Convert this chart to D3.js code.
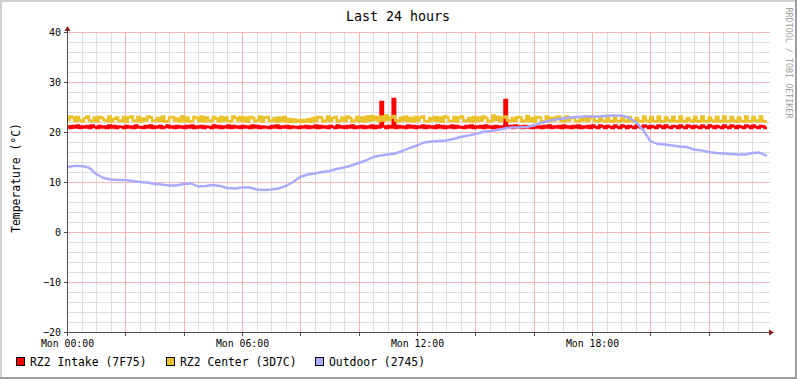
<!DOCTYPE html>
<html><head><meta charset="utf-8">
<script src="https://cdn.jsdelivr.net/npm/d3@7"></script>
<style>
html,body{margin:0;padding:0;background:#fff;}
svg text{font-family:"DejaVu Sans Mono",monospace;}
</style></head>
<body><svg id="c" width="797" height="379"></svg>
<script>
// ---------------- data ----------------
const title = "Last 24 hours";
const yLabel = "Temperature (°C)";
const credit = "RRDTOOL / TOBI OETIKER";
const seriesNames = ["RZ2 Intake (7F75)", "RZ2 Center (3D7C)", "Outdoor (2745)"];
const seriesColors = ["#FF0000", "#EBC22A", "#AAAAFF"];
const yTicks = [-20, -10, 0, 10, 20, 30, 40];
const xTickHours = [0, 6, 12, 18];
const xTickLabels = ["Mon 00:00", "Mon 06:00", "Mon 12:00", "Mon 18:00"];

// RZ2 Intake, 5-minute samples (288)
const intake = [
21.1,20.8,21.2,20.9,21.3,20.8,21.1,20.9,21.2,20.8,21.3,21.0,20.8,21.2,20.9,21.1,20.8,21.3,20.9,21.2,20.8,21.1,21.0,20.8,
21.2,20.9,21.1,20.8,21.3,20.9,21.0,20.8,21.2,20.9,21.3,20.8,21.1,20.9,21.2,20.8,21.0,21.3,20.9,21.1,20.8,21.2,20.9,21.1,
20.8,21.2,20.9,21.3,20.8,21.1,20.9,21.2,20.8,21.1,21.0,20.8,21.3,20.9,21.2,20.8,21.1,20.9,21.3,20.8,21.2,20.9,21.1,20.8,
21.2,20.9,21.1,20.8,21.3,20.9,21.2,20.8,21.1,20.9,21.0,20.8,21.2,20.9,21.3,20.8,21.1,20.9,21.2,20.8,21.1,20.9,21.0,20.8,
21.1,20.9,21.2,20.8,21.1,20.9,21.3,20.8,21.2,20.9,21.1,20.8,21.2,21.0,20.8,21.3,20.9,21.1,20.8,21.2,20.9,21.3,20.8,21.1,
20.9,21.2,20.8,21.1,20.9,21.3,20.8,21.2,20.9,26.0,21.1,20.8,21.2,20.9,26.6,20.8,21.2,20.9,21.1,20.8,21.3,20.9,21.2,20.8,
21.1,20.9,21.3,20.8,21.2,20.9,21.1,20.8,21.3,20.9,21.2,20.8,21.1,20.9,21.3,20.8,21.2,20.9,21.0,20.8,21.2,20.9,21.3,20.8,
21.1,20.9,21.2,20.8,21.3,20.9,21.1,20.8,21.2,20.9,21.1,20.8,26.4,20.9,21.2,20.8,21.3,20.9,21.1,20.8,21.2,20.9,21.1,20.8,
21.3,20.9,21.1,20.8,21.2,20.9,21.3,20.8,21.1,20.9,21.2,20.8,21.3,20.9,21.1,20.8,21.2,20.9,21.3,20.8,21.1,20.9,21.2,20.8,
21.3,21.0,20.8,21.3,21.1,20.8,21.2,21.0,20.8,21.3,21.0,20.8,21.3,21.1,20.8,21.2,21.0,20.8,21.3,21.0,20.8,21.3,21.1,20.8,
21.2,21.0,20.8,21.3,21.1,20.8,21.3,21.0,20.8,21.2,21.1,20.8,21.3,21.0,20.8,21.3,21.1,20.8,21.2,21.0,20.8,21.3,21.0,20.8,
21.3,21.1,20.8,21.2,21.0,20.8,21.3,21.0,20.8,21.3,21.1,20.8,21.2,21.0,20.8,21.3,21.1,20.8,21.3,21.0,20.8,21.2,21.1,20.8
];

// RZ2 Center, 5-minute samples (288)
const center = [
22.4,23.1,22.9,22.2,23.0,22.3,22.1,22.8,23.1,22.3,22.2,22.9,22.1,23.0,22.8,22.4,22.2,23.1,22.1,22.6,22.9,22.3,22.2,23.0,
22.1,22.9,23.1,22.3,22.2,23.0,22.1,22.7,22.3,23.1,22.9,22.2,22.3,22.8,22.2,23.1,22.1,22.2,22.9,23.0,22.3,22.7,22.1,23.1,
22.2,22.9,22.1,22.2,23.0,22.8,22.2,23.1,22.1,22.9,22.3,22.2,23.0,22.7,22.1,23.0,22.3,22.9,22.2,22.1,23.1,22.8,22.3,23.0,
22.2,22.9,22.1,23.0,22.8,22.2,22.3,23.1,22.1,22.9,23.0,22.2,22.3,22.8,22.1,22.9,22.2,23.0,22.1,22.6,22.0,22.5,22.1,22.4,
22.0,22.4,22.1,22.6,22.0,22.8,22.2,23.0,22.9,22.1,22.3,23.1,22.2,22.8,23.0,22.1,22.3,22.9,22.2,23.1,22.8,22.1,22.3,23.0,
22.2,22.9,22.1,23.1,22.3,23.2,22.4,23.0,22.2,23.1,22.3,23.3,22.4,22.9,23.2,22.3,22.1,22.9,22.3,23.1,22.2,22.8,22.1,23.0,
22.3,22.9,23.1,22.2,22.1,22.8,22.3,23.0,22.2,22.9,22.1,23.1,22.9,22.2,22.2,23.0,22.1,22.9,23.1,22.3,22.2,22.8,22.1,23.0,
22.2,22.9,22.3,23.1,22.8,22.1,22.2,23.3,22.4,23.0,22.2,22.9,23.1,22.3,22.2,22.8,22.2,23.0,22.9,22.1,22.3,23.2,22.2,22.8,
22.1,23.0,22.9,22.2,22.2,23.1,22.1,22.8,22.3,23.0,23.1,22.2,22.1,23.1,22.3,22.8,22.9,22.2,22.1,22.9,22.3,23.1,22.2,22.8,
23.1,22.2,22.1,23.0,22.3,22.1,23.2,22.2,22.1,22.9,22.2,22.1,23.1,22.3,22.1,23.0,22.2,22.1,22.8,22.2,22.1,23.1,22.3,22.1,
23.0,22.2,22.1,23.1,22.2,22.1,22.9,22.3,22.1,23.0,22.2,22.1,23.1,22.2,22.1,22.8,22.3,22.1,23.0,22.2,22.1,23.1,22.2,22.1,
22.9,22.3,22.1,23.0,22.2,22.1,23.1,22.2,22.1,23.0,22.3,22.1,22.9,22.2,22.1,23.1,22.2,22.1,23.0,22.3,22.1,23.1,22.2,22.1
];

// Outdoor, 15-minute samples (97)
const outdoor = [
13.0,13.2,13.2,12.9,11.6,10.8,10.5,10.4,10.4,10.2,10.0,9.9,9.6,9.5,9.3,9.3,
9.6,9.7,9.1,9.2,9.4,9.2,8.8,8.7,8.9,8.9,8.5,8.4,8.5,8.7,9.2,10.0,
11.0,11.5,11.7,12.0,12.2,12.6,12.9,13.3,13.8,14.3,15.0,15.3,15.5,15.7,16.2,16.8,
17.3,17.9,18.1,18.2,18.3,18.6,19.0,19.3,19.6,20.0,20.2,20.4,20.7,20.9,20.9,21.0,
21.3,21.8,22.2,22.5,22.7,22.9,23.0,23.1,23.1,23.1,23.2,23.3,23.3,22.9,22.0,20.4,
18.2,17.6,17.5,17.3,17.1,17.0,16.5,16.3,16.0,15.8,15.7,15.6,15.5,15.5,15.8,15.9,
15.2
];

// ---------------- drawing ----------------
const W = 797, H = 379;
const svg = d3.select("#c");
const HOUR = 3600e3;
const start = new Date(2024, 0, 1, 0, 0, 0); // a Monday
const end = new Date(+start + 24 * HOUR);

const x = d3.scaleTime().domain([start, end]).range([67, 767]);
const y = d3.scaleLinear().domain([-20, 40]).range([332, 32]);

// background + frame
svg.append("rect").attr("width", W).attr("height", H).attr("fill", "#FFFFFF");
svg.append("rect").attr("x", 0).attr("y", 0).attr("width", W).attr("height", 2).attr("fill", "#CFCFCF");
svg.append("rect").attr("x", 0).attr("y", 0).attr("width", 2).attr("height", H).attr("fill", "#CFCFCF");
svg.append("rect").attr("x", 0).attr("y", H - 2).attr("width", W).attr("height", 2).attr("fill", "#9E9E9E");
svg.append("rect").attr("x", W - 2).attr("y", 0).attr("width", 2).attr("height", H).attr("fill", "#9E9E9E");

const grid = svg.append("g").attr("shape-rendering", "crispEdges");
const minorX = d3.range(1, 48).filter(k => k % 4 !== 0).map(k => new Date(+start + k * HOUR / 2));
const majorX = d3.range(1, 12).map(k => new Date(+start + k * 2 * HOUR));
const minorY = d3.range(-18, 41, 2).filter(v => v % 10 !== 0);
const majorY = yTicks.filter(v => v !== -20);

grid.selectAll(".mx").data(minorX).enter().append("line")
  .attr("x1", d => Math.round(x(d)) + 0.5).attr("x2", d => Math.round(x(d)) + 0.5)
  .attr("y1", y(40)).attr("y2", y(-20)).attr("stroke", "#DEDEDE");
grid.selectAll(".my").data(minorY).enter().append("line")
  .attr("x1", 67).attr("x2", 770)
  .attr("y1", d => Math.round(y(d)) + 0.5).attr("y2", d => Math.round(y(d)) + 0.5).attr("stroke", "#DEDEDE");
grid.selectAll(".Mx").data(majorX).enter().append("line")
  .attr("x1", d => Math.round(x(d)) + 0.5).attr("x2", d => Math.round(x(d)) + 0.5)
  .attr("y1", y(40)).attr("y2", y(-20)).attr("stroke", "#F2B6B6");
grid.selectAll(".My").data(majorY).enter().append("line")
  .attr("x1", 67).attr("x2", 770)
  .attr("y1", d => Math.round(y(d)) + 0.5).attr("y2", d => Math.round(y(d)) + 0.5).attr("stroke", "#F2B6B6");

// series
function stepSeries(vals, stepMin) {
  const pts = vals.map((v, i) => ({ t: new Date(+start + i * stepMin * 60e3), v }));
  pts.push({ t: end, v: vals[vals.length - 1] });
  return pts;
}
const stepLine = d3.line().x(d => x(d.t)).y(d => y(d.v)).curve(d3.curveStepAfter);
const linLine = d3.line().x(d => x(d.t)).y(d => y(d.v));

svg.append("path").datum(stepSeries(intake, 5)).attr("d", stepLine)
  .attr("fill", "none").attr("stroke", seriesColors[0]).attr("stroke-width", 2.5);
svg.append("path").datum(stepSeries(center, 5)).attr("d", stepLine)
  .attr("fill", "none").attr("stroke", seriesColors[1]).attr("stroke-width", 2.5);
const outPts = outdoor.map((v, i) => ({ t: new Date(+start + i * 15 * 60e3), v }));
svg.append("path").datum(outPts).attr("d", linLine)
  .attr("fill", "none").attr("stroke", seriesColors[2]).attr("stroke-width", 2.4)
  .attr("stroke-linejoin", "round");

// axes
const axisCol = "#505050", arrowCol = "#8B1A1A";
const xAxis = d3.axisBottom(x)
  .tickValues(xTickHours.map(h => new Date(+start + h * HOUR)))
  .tickFormat((d, i) => xTickLabels[i])
  .tickSize(0).tickPadding(8);
const gx = svg.append("g").attr("transform", "translate(0,332)").call(xAxis);
gx.select(".domain").remove();
gx.selectAll("text").attr("font-size", "9.8px").attr("fill", "#000")
  .attr("font-family", "DejaVu Sans Mono");

const yAxis = d3.axisLeft(y).tickValues(yTicks).tickFormat(d3.format("d")).tickSize(0).tickPadding(6);
const gy = svg.append("g").attr("transform", "translate(67,0)").call(yAxis);
gy.select(".domain").remove();
gy.selectAll("text").attr("font-size", "10px").attr("fill", "#000")
  .attr("font-family", "DejaVu Sans Mono").attr("dy", "0.35em");

const ax = svg.append("g").attr("shape-rendering", "crispEdges");
ax.append("line").attr("x1", 67.5).attr("x2", 67.5).attr("y1", 332).attr("y2", 30).attr("stroke", axisCol);
ax.append("line").attr("x1", 64).attr("x2", 771).attr("y1", 332.5).attr("y2", 332.5).attr("stroke", axisCol);
ax.selectAll(".xt").data([start].concat(majorX)).enter().append("line")
  .attr("x1", d => Math.round(x(d)) + 0.5).attr("x2", d => Math.round(x(d)) + 0.5)
  .attr("y1", 332).attr("y2", 336).attr("stroke", axisCol);
ax.selectAll(".yt").data(yTicks).enter().append("line")
  .attr("x1", 64).attr("x2", 67)
  .attr("y1", d => Math.round(y(d)) + 0.5).attr("y2", d => Math.round(y(d)) + 0.5).attr("stroke", axisCol);
svg.append("path").attr("d", "M64.5,31 L67.5,26 L70.5,31 Z").attr("fill", arrowCol);
svg.append("path").attr("d", "M769,329.5 L774,332.5 L769,335.5 Z").attr("fill", arrowCol);

// title & labels
svg.append("text").attr("x", 398).attr("y", 21).attr("text-anchor", "middle")
  .attr("font-size", "13.3px").attr("fill", "#000").text(title);
svg.append("text").attr("transform", "translate(20,178) rotate(-90)").attr("text-anchor", "middle")
  .attr("font-size", "11.4px").attr("fill", "#000").text(yLabel);
svg.append("text").attr("transform", "translate(786,63) rotate(90)").attr("text-anchor", "middle")
  .attr("font-size", "8.4px").attr("fill", "#A0A0A0").text(credit);

// legend
const legX = [16, 166, 315];
const leg = svg.append("g");
seriesNames.forEach((n, i) => {
  leg.append("rect").attr("x", legX[i] + 0.5).attr("y", 357.5).attr("width", 8).attr("height", 8)
    .attr("fill", seriesColors[i]).attr("stroke", "#000").attr("stroke-width", 1);
  leg.append("text").attr("x", legX[i] + 14).attr("y", 365.5)
    .attr("font-size", "11.4px").attr("fill", "#000").text(n);
});
</script></body></html>
